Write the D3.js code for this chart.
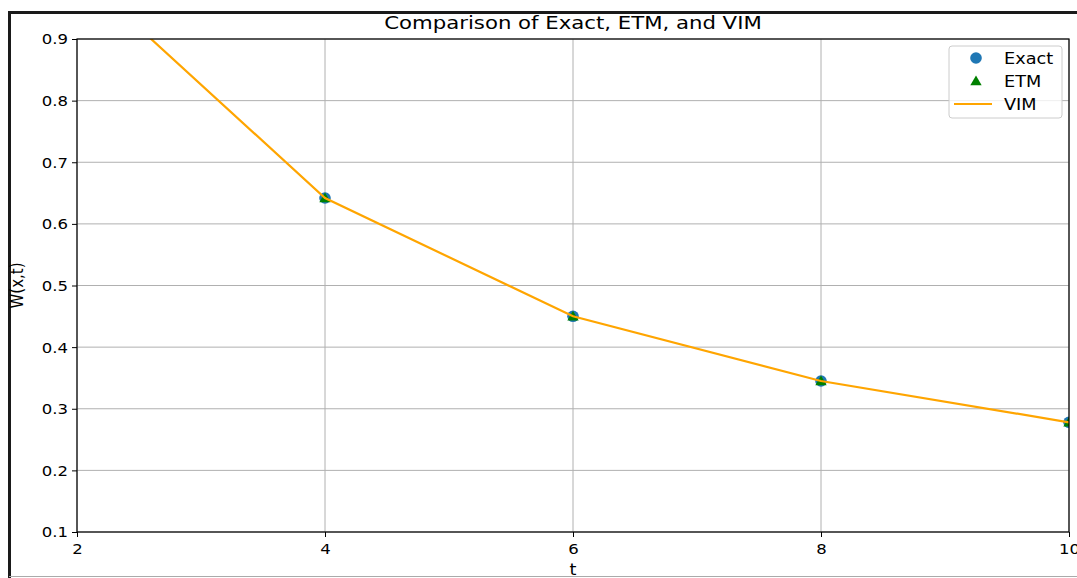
<!DOCTYPE html>
<html>
<head>
<meta charset="utf-8">
<script src="https://cdn.jsdelivr.net/npm/d3@7"></script>
<style>
  body { margin: 0; background: #fff; }
  svg text { font-family: "DejaVu Sans", sans-serif; fill: #000; }
</style>
</head>
<body>
<div id="chart"></div>
<script>
// values
const tValues = [2, 4, 6, 8, 10];
const exactValues = [1.01, 0.642, 0.450, 0.345, 0.278];
const etmValues = [1.01, 0.642, 0.450, 0.345, 0.278];
const vimValues = [1.01, 0.642, 0.450, 0.345, 0.278];
const xTicks = [2, 4, 6, 8, 10];
const yTicks = [0.1, 0.2, 0.3, 0.4, 0.5, 0.6, 0.7, 0.8, 0.9];
const seriesNames = ["Exact", "ETM", "VIM"];
const seriesColors = ["#1f77b4", "#008000", "#ffa500"];

const width = 1077, height = 578;
const margin = { top: 39, right: 8, bottom: 46, left: 77 };
// the screenshot is a little stretched sideways, so the text is too
const stretch = 1.18;

function widen(sel) {
    sel.each(function() {
        const t = d3.select(this);
        const tx = +t.attr("x") || 0, ty = +t.attr("y") || 0;
        t.attr("x", null).attr("y", null)
         .attr("transform", `translate(${tx},${ty}) scale(${stretch},1)`);
    });
}

const svg = d3.select("#chart").append("svg")
    .attr("width", width)
    .attr("height", height);

// the screenshot frame around the figure
svg.append("path")
    .attr("d", `M9.5,${height} V12.5 H${width}`)
    .attr("fill", "none")
    .attr("stroke", "#1a1a1a")
    .attr("stroke-width", 3);
svg.append("line")
    .attr("x1", 9).attr("x2", width)
    .attr("y1", 576.5).attr("y2", 576.5)
    .attr("stroke", "#aaa");

const x = d3.scaleLinear().domain([2, 10]).range([margin.left, 1069]);
const y = d3.scaleLinear().domain([0.1, 0.9]).range([532, margin.top]);

svg.append("clipPath").attr("id", "plot-clip")
  .append("rect")
    .attr("x", x(2)).attr("y", y(0.9))
    .attr("width", x(10) - x(2)).attr("height", y(0.1) - y(0.9));

// grid
const grid = svg.append("g").attr("class", "grid");
grid.selectAll("line.gx").data(xTicks).enter().append("line")
    .attr("x1", function(d) { return x(d); })
    .attr("x2", function(d) { return x(d); })
    .attr("y1", y(0.1)).attr("y2", y(0.9))
    .attr("stroke", "#b0b0b0").attr("stroke-width", 1);
grid.selectAll("line.gy").data(yTicks).enter().append("line")
    .attr("x1", x(2)).attr("x2", x(10))
    .attr("y1", function(d) { return y(d); })
    .attr("y2", function(d) { return y(d); })
    .attr("stroke", "#b0b0b0").attr("stroke-width", 1);

const data = tValues.map(function(t, i) {
    return { t: t, exact: exactValues[i], etm: etmValues[i], vim: vimValues[i] };
});

const plot = svg.append("g").attr("clip-path", "url(#plot-clip)");

plot.selectAll("circle.exact").data(data).enter().append("circle")
    .attr("cx", function(d) { return x(d.t); })
    .attr("cy", function(d) { return y(d.exact); })
    .attr("r", 5.8)
    .attr("fill", seriesColors[0]);

const tri = d3.symbol().type(d3.symbolTriangle).size(56);
plot.selectAll("path.etm").data(data).enter().append("path")
    .attr("d", tri)
    .attr("transform", function(d) { return `translate(${x(d.t)},${y(d.etm) + 1})`; })
    .attr("fill", seriesColors[1]);

const line = d3.line()
    .x(function(d) { return x(d.t); })
    .y(function(d) { return y(d.vim); });

plot.append("path")
    .datum(data)
    .attr("d", line)
    .attr("fill", "none")
    .attr("stroke", seriesColors[2])
    .attr("stroke-width", 2.2);

// axes
const xAxis = svg.append("g")
    .attr("transform", `translate(0,${y(0.1)})`)
    .call(d3.axisBottom(x).tickValues(xTicks).tickFormat(d3.format("d")).tickSize(5).tickPadding(4));
const yAxis = svg.append("g")
    .attr("transform", `translate(${x(2)},0)`)
    .call(d3.axisLeft(y).tickValues(yTicks).tickFormat(d3.format(".1f")).tickSize(5).tickPadding(4));
[xAxis, yAxis].forEach(function(a) {
    a.select(".domain").remove();
    a.selectAll("line").attr("stroke", "#000").attr("stroke-width", 1);
    a.selectAll("text").style("font-size", "14px").attr("fill", "#000");
});
yAxis.selectAll("text").attr("x", -9).attr("dy", "0.35em");
xAxis.selectAll("text").attr("y", 10).attr("dy", "0.85em");
widen(xAxis.selectAll("text"));
widen(yAxis.selectAll("text"));

// frame
svg.append("rect")
    .attr("x", x(2)).attr("y", y(0.9))
    .attr("width", x(10) - x(2)).attr("height", y(0.1) - y(0.9))
    .attr("fill", "none")
    .attr("stroke", "#000")
    .attr("stroke-width", 1.2);

// labels
svg.append("text")
    .attr("x", (x(2) + x(10)) / 2).attr("y", 29)
    .attr("text-anchor", "middle")
    .style("font-size", "18px")
    .text("Comparison of Exact, ETM, and VIM")
    .call(widen);
svg.append("text")
    .attr("x", (x(2) + x(10)) / 2).attr("y", 575)
    .attr("text-anchor", "middle")
    .style("font-size", "15px")
    .text("t")
    .call(widen);
svg.append("text")
    .attr("transform", `translate(23,${(y(0.1) + y(0.9)) / 2}) rotate(-90) scale(1,${stretch})`)
    .attr("text-anchor", "middle")
    .style("font-size", "15px")
    .text("W(x,t)");

// legend
const legend = svg.append("g").attr("transform", "translate(949,46)");
legend.append("rect")
    .attr("width", 113).attr("height", 72)
    .attr("rx", 3)
    .attr("fill", "#fff").attr("fill-opacity", 0.8)
    .attr("stroke", "#ccc");
const items = legend.selectAll("g.item").data(seriesNames).enter().append("g")
    .attr("transform", function(d, i) { return `translate(0,${12 + i * 23})`; });
items.append("text")
    .attr("x", 55).attr("y", 5.5)
    .style("font-size", "15px")
    .text(function(d) { return d; })
    .call(widen);
items.filter(function(d, i) { return i === 0; }).append("circle")
    .attr("cx", 27).attr("r", 5.8).attr("fill", seriesColors[0]);
items.filter(function(d, i) { return i === 1; }).append("path")
    .attr("d", tri).attr("transform", "translate(27,1)").attr("fill", seriesColors[1]);
items.filter(function(d, i) { return i === 2; }).append("line")
    .attr("x1", 5).attr("x2", 43)
    .attr("stroke", seriesColors[2]).attr("stroke-width", 2.2);
</script>
</body>
</html>
